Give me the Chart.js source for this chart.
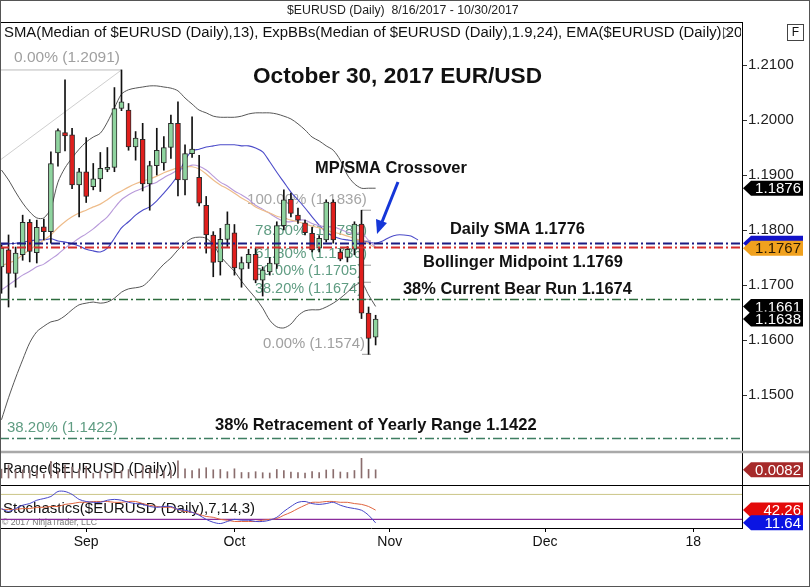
<!DOCTYPE html>
<html>
<head>
<meta charset="utf-8">
<script src="https://cdn.jsdelivr.net/npm/chart.js@4.4.0/dist/chart.umd.min.js"></script>
<style>
html, body { margin: 0; padding: 0; background: #fff; }
canvas { display: block; }
</style>
</head>
<body>
<canvas id="chart" width="810" height="587"></canvas>
<script>
// bars, 8/16/2017 - 10/30/2017
const dates = ['8/16','8/17','8/18','8/21','8/22','8/23','8/24','8/25','8/28','8/29','8/30','8/31',
	'9/1','9/4','9/5','9/6','9/7','9/8','9/11','9/12','9/13','9/14','9/15','9/18','9/19','9/20','9/21','9/22','9/25','9/26','9/27','9/28','9/29',
	'10/2','10/3','10/4','10/5','10/6','10/9','10/10','10/11','10/12','10/13','10/16','10/17','10/18','10/19','10/20','10/23','10/24','10/25','10/26','10/27','10/30'];

const opens = [1.1733,1.1764,1.1721,1.1755,1.1814,1.1759,1.1806,1.1797,1.1940,1.1977,1.1973,1.1882,1.1906,1.1879,1.1893,1.1910,1.1914,1.2021,
	1.2018,1.1951,1.1965,1.1884,1.1917,1.1922,1.1950,1.1994,1.1891,1.1939,1.1896,1.1845,1.1791,1.1742,1.1783,1.1795,1.1729,1.1740,
	1.1756,1.1709,1.1724,1.1738,1.1808,1.1856,1.1827,1.1813,1.1794,1.1767,1.1782,1.1851,1.1760,1.1750,1.1765,1.1811,1.1649,1.1605];
const highs = [1.1773,1.1791,1.1769,1.1827,1.1819,1.1818,1.1820,1.1942,1.1984,1.2073,1.1985,1.1912,1.1968,1.1921,1.1941,1.1950,1.2059,1.2091,
	1.2030,1.1979,1.1994,1.1925,1.1985,1.1970,1.2009,1.2033,1.1955,1.2006,1.1936,1.1861,1.1797,1.1803,1.1833,1.1810,1.1751,1.1765,
	1.1767,1.1733,1.1750,1.1815,1.1873,1.1867,1.1840,1.1818,1.1805,1.1790,1.1855,1.1855,1.1765,1.1770,1.1815,1.1836,1.1660,1.1645];
const lows = [1.1685,1.1660,1.1696,1.1745,1.1742,1.1740,1.1782,1.1776,1.1916,1.1944,1.1875,1.1824,1.1850,1.1873,1.1870,1.1906,1.1906,1.2017,
	1.1945,1.1927,1.1871,1.1836,1.1900,1.1909,1.1930,1.1862,1.1864,1.1932,1.1844,1.1758,1.1715,1.1718,1.1770,1.1718,1.1696,1.1730,
	1.1704,1.1680,1.1718,1.1730,1.1800,1.1824,1.1812,1.1791,1.1760,1.1760,1.1778,1.1776,1.1744,1.1742,1.1755,1.1639,1.1574,1.1591];
const closes = [1.1767,1.1721,1.1758,1.1814,1.1761,1.1805,1.1797,1.1921,1.1981,1.1971,1.1882,1.1906,1.1861,1.1893,1.1912,1.1914,1.2021,1.2033,
	1.1951,1.1967,1.1884,1.1917,1.1945,1.1950,1.1994,1.1891,1.1939,1.1947,1.1849,1.1791,1.1741,1.1783,1.1811,1.1731,1.1741,1.1756,
	1.1709,1.1727,1.1740,1.1808,1.1855,1.1830,1.1818,1.1795,1.1764,1.1785,1.1851,1.1782,1.1747,1.1765,1.1811,1.1649,1.1603,1.1638];

// indicator lines
const upperBand = [1.1909,1.1891,1.1869,1.1849,1.1833,1.1822,1.1822,1.1840,1.1887,1.1913,1.1931,1.1947,1.1960,1.1969,1.1976,1.1996,1.2022,1.2047,
	1.2055,1.2058,1.2060,1.2062,1.2062,1.2060,1.2058,1.2053,1.2040,1.2029,1.2018,1.2013,1.2007,1.2005,1.2005,1.2005,1.2007,1.2011,
	1.2013,1.2013,1.2013,1.2011,1.2007,1.2002,1.1993,1.1982,1.1969,1.1962,1.1953,1.1945,1.1927,1.1900,1.1884,1.1876,1.1876,1.1876];
const lowerBand = [1.1455,1.1495,1.1531,1.1564,1.1595,1.1615,1.1625,1.1633,1.1636,1.1644,1.1655,1.1664,1.1667,1.1669,1.1667,1.1669,1.1676,1.1687,
	1.1693,1.1695,1.1698,1.1709,1.1724,1.1738,1.1749,1.1764,1.1776,1.1785,1.1787,1.1785,1.1773,1.1753,1.1738,1.1725,1.1707,1.1691,
	1.1676,1.1658,1.1636,1.1624,1.1622,1.1629,1.1644,1.1653,1.1655,1.1655,1.1660,1.1667,1.1676,1.1687,1.1698,1.1704,1.1682,1.1661];
const emaLine = [1.1735,1.1740,1.1745,1.1755,1.1764,1.1773,1.1782,1.1791,1.1804,1.1815,1.1824,1.1831,1.1836,1.1842,1.1847,1.1855,1.1864,1.1871,
	1.1878,1.1884,1.1889,1.1893,1.1898,1.1904,1.1909,1.1913,1.1915,1.1915,1.1911,1.1902,1.1891,1.1882,1.1875,1.1867,1.1858,1.1851,
	1.1842,1.1836,1.1831,1.1825,1.1822,1.1818,1.1815,1.1811,1.1807,1.1804,1.1800,1.1796,1.1793,1.1789,1.1785,1.1780,1.1775,1.1767];
const midBand = [1.1691,1.1700,1.1709,1.1718,1.1725,1.1733,1.1738,1.1747,1.1756,1.1767,1.1776,1.1785,1.1793,1.1802,1.1813,1.1824,1.1840,1.1855,
	1.1864,1.1871,1.1876,1.1882,1.1887,1.1895,1.1902,1.1909,1.1913,1.1918,1.1916,1.1909,1.1898,1.1887,1.1880,1.1871,1.1864,1.1856,
	1.1845,1.1838,1.1830,1.1822,1.1816,1.1815,1.1818,1.1818,1.1812,1.1808,1.1806,1.1806,1.1801,1.1796,1.1793,1.1795,1.1781,1.1769];
const smaLine = [1.1773,1.1775,1.1776,1.1778,1.1780,1.1782,1.1782,1.1784,1.1780,1.1778,1.1775,1.1771,1.1765,1.1762,1.1760,1.1767,1.1785,1.1804,
	1.1815,1.1827,1.1836,1.1842,1.1853,1.1867,1.1882,1.1900,1.1927,1.1944,1.1947,1.1951,1.1953,1.1955,1.1955,1.1955,1.1953,1.1953,
	1.1949,1.1942,1.1924,1.1905,1.1887,1.1869,1.1855,1.1840,1.1824,1.1809,1.1796,1.1789,1.1784,1.1782,1.1780,1.1780,1.1778,1.1776];
const smaForward = [1.1780,1.1787,1.1791,1.1791,1.1789,1.1782];

const rangeVals = [0.0088,0.0131,0.0073,0.0082,0.0077,0.0078,0.0038,0.0166,0.0068,0.0129,0.0110,0.0088,0.0118,0.0048,0.0071,0.0044,0.0153,0.0074,
	0.0085,0.0052,0.0123,0.0089,0.0085,0.0061,0.0079,0.0171,0.0091,0.0074,0.0092,0.0103,0.0082,0.0085,0.0063,0.0092,0.0055,0.0055,
	0.0063,0.0053,0.0050,0.0085,0.0073,0.0060,0.0055,0.0050,0.0065,0.0055,0.0080,0.0085,0.0060,0.0055,0.0075,0.0197,0.0086,0.0082];
const stochK = [46,39,46,54,58,66,70,75,87,87,80,68,63,61,61,66,68,66,61,58,56,51,49,51,51,44,42,37,30,20,13,10,15,20,18,18,15,15,18,25,39,51,61,63,58,56,58,61,54,49,46,42,30,11.64];
const stochD = [44,44,44,46,46,49,49,51,51,56,58,61,61,63,63,63,61,61,63,63,58,54,51,49,49,44,39,37,32,27,25,20,18,15,15,15,15,18,20,22,30,37,46,54,61,61,63,63,61,61,58,56,51,42.26];
const stochLevels = [80, 20];

// axes
const monthTicks = [12, 33, 55, 77, 98];
const monthLabels = ['Sep', 'Oct', 'Nov', 'Dec', '18'];
const priceTicks = [1.21, 1.20, 1.19, 1.18, 1.17, 1.16, 1.15];

// drawn levels and last-value tags
const refLevels = [1.1776, 1.1769, 1.1674, 1.1422];
const fibLevels = [1.1836, 1.1780, 1.1736, 1.1705, 1.1674, 1.1574];
const yearHigh = 1.2091;
const priceTags = [1.1876, 1.1776, 1.1767, 1.1661, 1.1638];
const rangeTag = 0.0082;
const stochTags = [42.26, 11.64];


const FONT = '"Liberation Sans", Arial, sans-serif';

function fitText(ctx, s, x, y, w, weight, color) {
	ctx.font = weight + ' 20px ' + FONT;
	const size = 20 * w / ctx.measureText(s).width;
	ctx.font = weight + ' ' + size.toFixed(2) + 'px ' + FONT;
	ctx.fillStyle = color;
	ctx.textAlign = 'left';
	ctx.textBaseline = 'middle';
	ctx.fillText(s, x, y);
}

function hLine(ctx, x0, x1, y, color, width, dash) {
	ctx.save();
	ctx.strokeStyle = color;
	ctx.lineWidth = width;
	ctx.setLineDash(dash || []);
	ctx.beginPath();
	ctx.moveTo(x0, y);
	ctx.lineTo(x1, y);
	ctx.stroke();
	ctx.restore();
}

function tag(ctx, y, text, bg, fg) {
	const x0 = 743, x1 = 803, h = 15, a = 8;
	ctx.fillStyle = bg;
	ctx.beginPath();
	ctx.moveTo(x0, y);
	ctx.lineTo(x0 + a, y - h / 2);
	ctx.lineTo(x1, y - h / 2);
	ctx.lineTo(x1, y + h / 2);
	ctx.lineTo(x0 + a, y + h / 2);
	ctx.closePath();
	ctx.fill();
	if (!text) return;
	ctx.font = '15px ' + FONT;
	ctx.fillStyle = fg;
	ctx.textAlign = 'right';
	ctx.textBaseline = 'middle';
	ctx.fillText(text, x1 - 2, y + 1);
}

const decor = {
	id: 'decor',
	beforeDraw(chart) {
		const ctx = chart.ctx;
		ctx.save();
		ctx.fillStyle = '#fff';
		ctx.fillRect(0, 0, chart.width, chart.height);
		ctx.restore();
	},
	beforeDatasetsDraw(chart) {
		const ctx = chart.ctx;
		const x = chart.scales.x, y = chart.scales.y, yS = chart.scales.yS;
		const right = chart.chartArea.right;
		ctx.save();

		// yearly fib anchor
		hLine(ctx, 0, x.getPixelForValue(17), y.getPixelForValue(yearHigh), '#bcbcbc', 1);
		ctx.strokeStyle = '#cfcfcf';
		ctx.lineWidth = 1;
		ctx.beginPath();
		ctx.moveTo(0, y.getPixelForValue(1.1927));
		ctx.lineTo(x.getPixelForValue(17), y.getPixelForValue(yearHigh));
		ctx.stroke();

		// fib ticks of the current bear run
		for (const v of fibLevels) {
			hLine(ctx, 362, 371, y.getPixelForValue(v), '#9a9a9a', 1);
		}

		fitText(ctx, '0.00% (1.2091)', 14, 58, 106, 'normal', '#a0a0a0');
		fitText(ctx, '100.00% (1.1836)', 247, 200, 120, 'normal', '#a6a6a6');
		fitText(ctx, '78.60% (1.1780)', 255, 231, 112, 'normal', '#5f9c82');
		fitText(ctx, '61.80% (1.1736)', 255, 254, 112, 'normal', '#5f9c82');
		fitText(ctx, '50.00% (1.1705)', 255, 271, 107, 'normal', '#5f9c82');
		fitText(ctx, '38.20% (1.1674)', 255, 289, 107, 'normal', '#5f9c82');
		fitText(ctx, '0.00% (1.1574)', 263, 344, 102, 'normal', '#a0a0a0');
		fitText(ctx, '38.20% (1.1422)', 7, 428, 111, 'normal', '#5f9c82');

		fitText(ctx, 'Range($EURUSD (Daily))', 3, 469, 174, 'normal', '#111');
		fitText(ctx, 'Stochastics($EURUSD (Daily),7,14,3)', 3, 509, 252, 'normal', '#111');
		fitText(ctx, '\u00a9 2017 NinjaTrader, LLC', 2, 523, 95, 'normal', '#777');

		hLine(ctx, 0, right, yS.getPixelForValue(stochLevels[0]), '#cbc587', 1);
		hLine(ctx, 0, right, yS.getPixelForValue(stochLevels[1]), '#8a2c9c', 1.2);
		ctx.restore();
	},
	afterDatasetsDraw(chart) {
		const ctx = chart.ctx;
		const y = chart.scales.y;
		const right = chart.chartArea.right;
		ctx.save();

		const refStyle = [['#1b1b82', 2], ['#d42d2d', 2], ['#2d6c3d', 1.6], ['#3e7e62', 1.4]];
		refLevels.forEach((v, i) => {
			hLine(ctx, 0, right, Math.round(y.getPixelForValue(v)) + 0.5, refStyle[i][0], refStyle[i][1], [9, 3, 2, 3]);
		});

		fitText(ctx, 'October 30, 2017 EUR/USD', 253, 77, 289, 'bold', '#111');
		fitText(ctx, 'MP/SMA Crossover', 315, 168, 152, 'bold', '#111');
		fitText(ctx, 'Daily SMA 1.1776', 450, 229, 135, 'bold', '#111');
		fitText(ctx, 'Bollinger Midpoint 1.1769', 423, 262, 200, 'bold', '#111');
		fitText(ctx, '38% Current Bear Run 1.1674', 403, 289, 229, 'bold', '#111');
		fitText(ctx, '38% Retracement of Yearly Range 1.1422', 215, 425, 322, 'bold', '#111');

		// arrow to the crossover
		ctx.strokeStyle = '#1536d8';
		ctx.fillStyle = '#1536d8';
		ctx.lineWidth = 3;
		ctx.beginPath();
		ctx.moveTo(398, 182);
		ctx.lineTo(382, 222);
		ctx.stroke();
		ctx.beginPath();
		ctx.moveTo(377, 234);
		ctx.lineTo(376, 219);
		ctx.lineTo(387, 223);
		ctx.closePath();
		ctx.fill();
		ctx.restore();
	},
	afterDraw(chart) {
		const ctx = chart.ctx;
		const y = chart.scales.y, yR = chart.scales.yR, yS = chart.scales.yS;
		const right = chart.chartArea.right;
		ctx.save();

		// panel frames
		hLine(ctx, 0, right, 22.5, '#000', 1);
		ctx.strokeStyle = '#000';
		ctx.lineWidth = 1;
		ctx.beginPath();
		ctx.moveTo(0.5, 22);
		ctx.lineTo(0.5, 528);
		ctx.stroke();
		hLine(ctx, 0, 810, 452, '#a9a9a9', 2.5);
		hLine(ctx, 0, 810, 485.5, '#000', 1);

		// header
		ctx.save();
		ctx.beginPath();
		ctx.rect(0, 23, right - 1, 22);
		ctx.clip();
		const head = 'SMA(Median of $EURUSD (Daily),13), ExpBBs(Median of $EURUSD (Daily),1.9,24), EMA($EURUSD (Daily)';
		ctx.font = '20px ' + FONT;
		const hs = 20 * 718 / ctx.measureText(head).width;
		ctx.font = hs.toFixed(2) + 'px ' + FONT;
		ctx.fillStyle = '#111';
		ctx.textAlign = 'left';
		ctx.textBaseline = 'middle';
		ctx.fillText(head + ',20)', 4, 33);
		ctx.restore();
		ctx.strokeStyle = '#555';
		ctx.lineWidth = 1;
		ctx.beginPath();
		ctx.moveTo(723.5, 27.5);
		ctx.lineTo(731.5, 33);
		ctx.lineTo(723.5, 38.5);
		ctx.closePath();
		ctx.stroke();

		fitText(ctx, '$EURUSD (Daily)  8/16/2017 - 10/30/2017', 287, 11, 232, 'normal', '#222');

		// F button
		ctx.strokeStyle = '#444';
		ctx.strokeRect(787.5, 24.5, 16, 16);
		ctx.font = '12px ' + FONT;
		ctx.fillStyle = '#111';
		ctx.textAlign = 'center';
		ctx.textBaseline = 'middle';
		ctx.fillText('F', 795.5, 33);

		// last value tags (the blue one sits under the orange one)
		const tagColors = [['#000', '#fff'], ['#1212c8', null], ['#f0a11e', '#2a1a00'], ['#000', '#fff'], ['#000', '#fff']];
		priceTags.forEach((v, i) => tag(ctx, y.getPixelForValue(v), tagColors[i][1] ? v.toFixed(4) : '', tagColors[i][0], tagColors[i][1]));
		tag(ctx, yR.getPixelForValue(rangeTag), rangeTag.toFixed(4), '#a62a2a', '#fff');
		tag(ctx, yS.getPixelForValue(stochTags[0]), stochTags[0].toFixed(2), '#e30a0a', '#fff');
		tag(ctx, yS.getPixelForValue(stochTags[1]), stochTags[1].toFixed(2), '#0a14e3', '#fff');

		// outer frame
		ctx.strokeStyle = '#555';
		ctx.strokeRect(0.5, 0.5, 809, 586);
		ctx.restore();
	}
};

const pts = (arr, off) => arr.map((v, i) => ({x: i + (off || 0), y: v}));
const lineSet = (data, color, width, axis) => ({
	type: 'line', data: data, yAxisID: axis || 'y',
	borderColor: color, borderWidth: width, pointRadius: 0, tension: 0.3, order: 10
});

new Chart(document.getElementById('chart'), {
	type: 'bar',
	data: {
		datasets: [
			lineSet(pts(upperBand), '#575757', 1),
			lineSet(pts(lowerBand), '#575757', 1),
			lineSet(pts(emaLine), '#eebc8a', 1.2),
			lineSet(pts(midBand), '#b89ada', 1.1),
			lineSet(pts(smaLine).concat(pts(smaForward, smaLine.length)), '#4b4bc9', 1.1),
			{
				type: 'bar', data: dates.map((d, i) => ({x: i, y: [lows[i], highs[i]]})),
				backgroundColor: '#111', barThickness: 1, grouped: false, order: 4
			},
			{
				type: 'bar', data: dates.map((d, i) => ({x: i, y: [opens[i], closes[i]]})),
				backgroundColor: c => closes[c.dataIndex] >= opens[c.dataIndex] ? '#8fd49f' : '#e01f1d',
				borderColor: '#2a2a2a', borderWidth: 1, borderSkipped: false,
				barThickness: 5, grouped: false, order: 3
			},
			{
				type: 'bar', yAxisID: 'yR', data: pts(rangeVals),
				backgroundColor: '#8a6d6d', barThickness: 1, grouped: false, order: 4
			},
			lineSet(pts(stochK), '#4646c8', 1, 'yS'),
			lineSet(pts(stochD), '#e0643e', 1, 'yS')
		]
	},
	options: {
		responsive: false,
		animation: false,
		devicePixelRatio: 1,
		layout: { padding: { top: 22, left: 0, right: 0, bottom: 0 } },
		plugins: { legend: { display: false }, tooltip: { enabled: false }, title: { display: false } },
		scales: {
			x: {
				type: 'linear', min: -0.21, max: 104.9, offset: false,
				grid: { offset: false, drawOnChartArea: false, drawTicks: true, tickLength: 4, color: '#000' },
				border: { display: true, color: '#000' },
				ticks: {
					autoSkip: false, maxRotation: 0, padding: 2, color: '#111',
					font: { family: FONT, size: 14 },
					callback: v => { const k = monthTicks.indexOf(v); return k < 0 ? '' : monthLabels[k]; }
				},
				afterBuildTicks: s => { s.ticks = monthTicks.map(v => ({ value: v })); },
				afterFit: s => { s.height = 59; }
			},
			y: {
				position: 'right', min: 1.12582, max: 1.21782, beginAtZero: false,
				grid: { drawOnChartArea: false, drawTicks: true, tickLength: 5, color: '#333' },
				border: { display: true, color: '#000' },
				ticks: { padding: 1, color: '#222', font: { family: FONT, size: 15 }, callback: v => v.toFixed(4) },
				afterBuildTicks: s => { s.ticks = priceTicks.map(v => ({ value: v })); },
				afterFit: s => { s.width = 68; }
			},
			yR: { display: false, min: -0.050, max: 0.456, beginAtZero: false },
			yS: { display: false, min: -0.7, max: 1215, beginAtZero: false }
		}
	},
	plugins: [decor]
});
</script>
</body>
</html>
